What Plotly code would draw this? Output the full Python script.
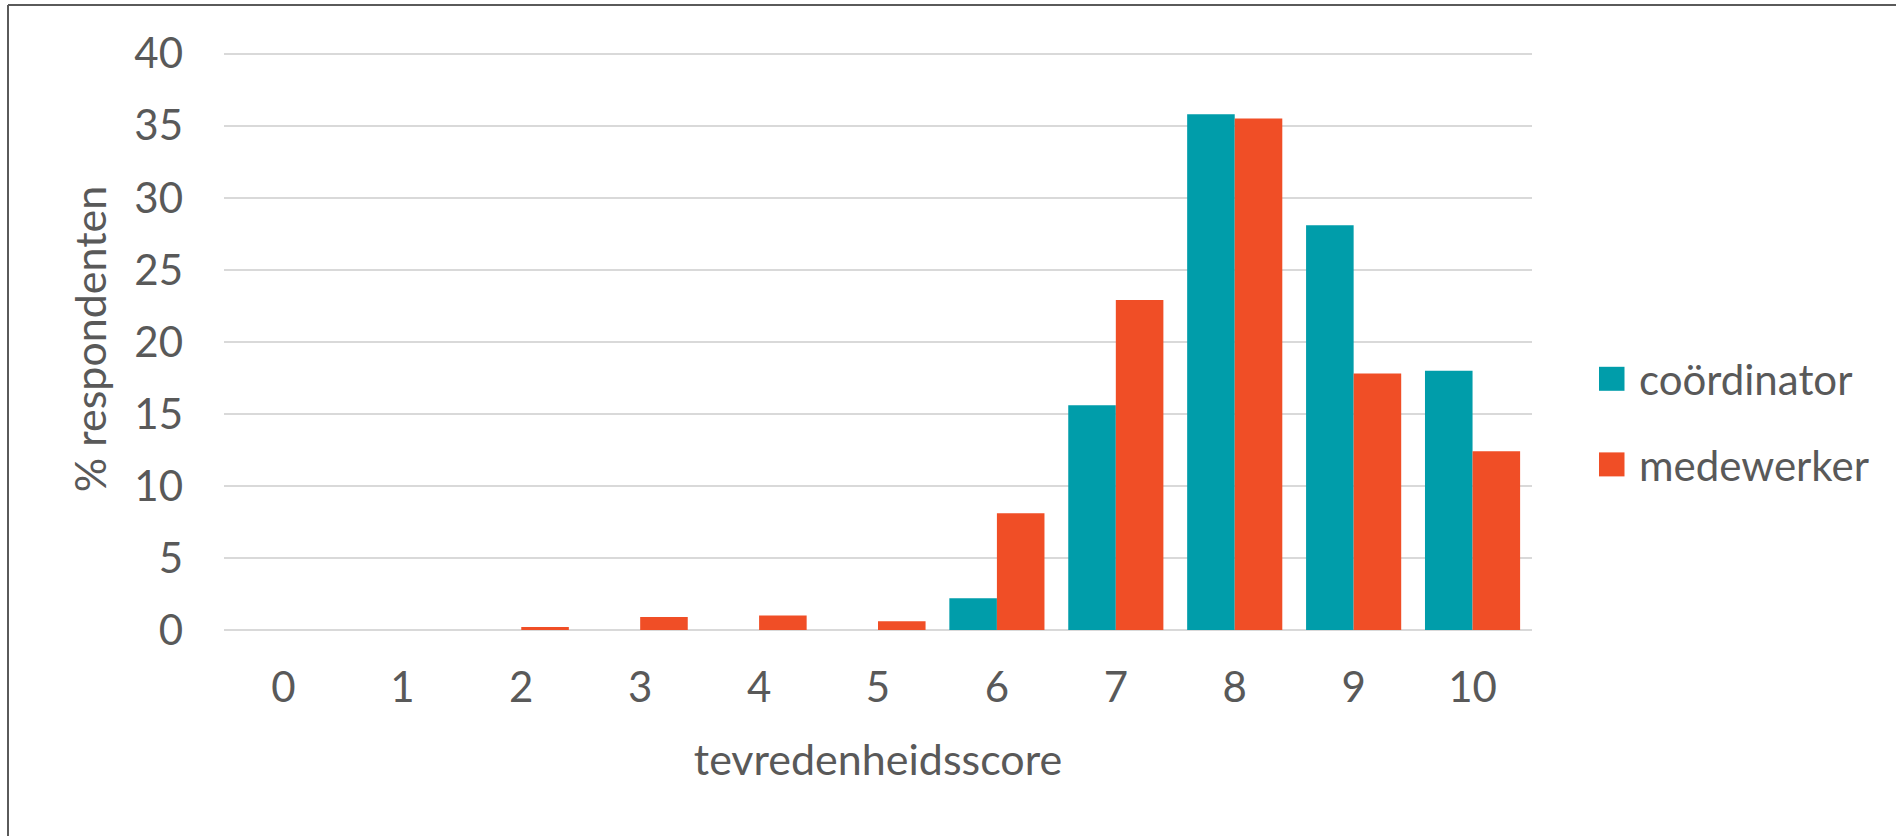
import plotly.graph_objects as go

scores = ["0", "1", "2", "3", "4", "5", "6", "7", "8", "9", "10"]
coordinator = [0, 0, 0, 0, 0, 0, 2.2, 15.6, 35.8, 28.1, 18.0]
medewerker = [0, 0, 0.2, 0.9, 1.0, 0.6, 8.1, 22.9, 35.5, 17.8, 12.4]
y_ticks = [0, 5, 10, 15, 20, 25, 30, 35, 40]

TEAL = "#009DAA"
ORANGE = "#F04E26"
TXT = "#595959"
FONT = "Lato"

fig = go.Figure()
fig.add_trace(go.Bar(x=scores, y=coordinator, name="coördinator",
                     marker=dict(color=TEAL, line=dict(width=0)), legendgroup="a"))
fig.add_trace(go.Bar(x=scores, y=medewerker, name="medewerker",
                     marker=dict(color=ORANGE, line=dict(width=0)), legendgroup="b"))

L, R, T, B = 224, 1532, 48, 630
W, H = 1896, 836
YMAX = 40.4

def px(x):
    return (x - L) / (R - L)

def py(y):
    return (B - y) / (B - T)

fig.update_layout(
    width=W, height=H,
    margin=dict(l=L, r=W - R, t=T, b=H - B, autoexpand=False),
    paper_bgcolor="white", plot_bgcolor="white",
    font=dict(family=FONT, color=TXT, size=43),
    barmode="group", bargap=0.2, bargroupgap=0,
    showlegend=True,
    legend=dict(x=px(1599), y=py(422), xanchor="left", yanchor="middle",
                font=dict(family=FONT, size=42, color=TXT),
                traceorder="grouped", tracegroupgap=28,
                bgcolor="rgba(0,0,0,0)"),
    xaxis=dict(type="category", showgrid=False, showline=False, zeroline=False,
               tickfont=dict(size=42, color=TXT), ticks="", ticklabelstandoff=29,
               title=dict(text="tevredenheidsscore", font=dict(size=43, color=TXT), standoff=34),
               automargin=False),
    yaxis=dict(range=[0, YMAX], tickvals=y_ticks, showgrid=True, gridcolor="#D9D9D9", gridwidth=2,
               zeroline=True, zerolinecolor="#D9D9D9", zerolinewidth=2, showline=False,
               tickfont=dict(size=42, color=TXT), ticks="", ticklabelstandoff=40,
               title=dict(text="% respondenten", font=dict(size=43, color=TXT), standoff=14),
               automargin=False),
    shapes=[
        dict(type="line", xref="paper", yref="paper",
             x0=px(8), x1=px(8), y0=py(H + 5), y1=py(5),
             line=dict(color="#5A5A5A", width=2), layer="below"),
        dict(type="line", xref="paper", yref="paper",
             x0=px(8), x1=px(W + 5), y0=py(5), y1=py(5),
             line=dict(color="#5A5A5A", width=2), layer="below"),
    ],
)

post = """
document.body.style.margin = '0';
document.body.style.overflow = 'hidden';
document.querySelectorAll('.legendpoints path').forEach(function(p){
  var t = p.getAttribute('transform') || '';
  p.setAttribute('transform', t + ' translate(-8,0) scale(2.25,2.0)');
});
"""

fig.write_html("out.html", post_script=post, config={"displayModeBar": False})
